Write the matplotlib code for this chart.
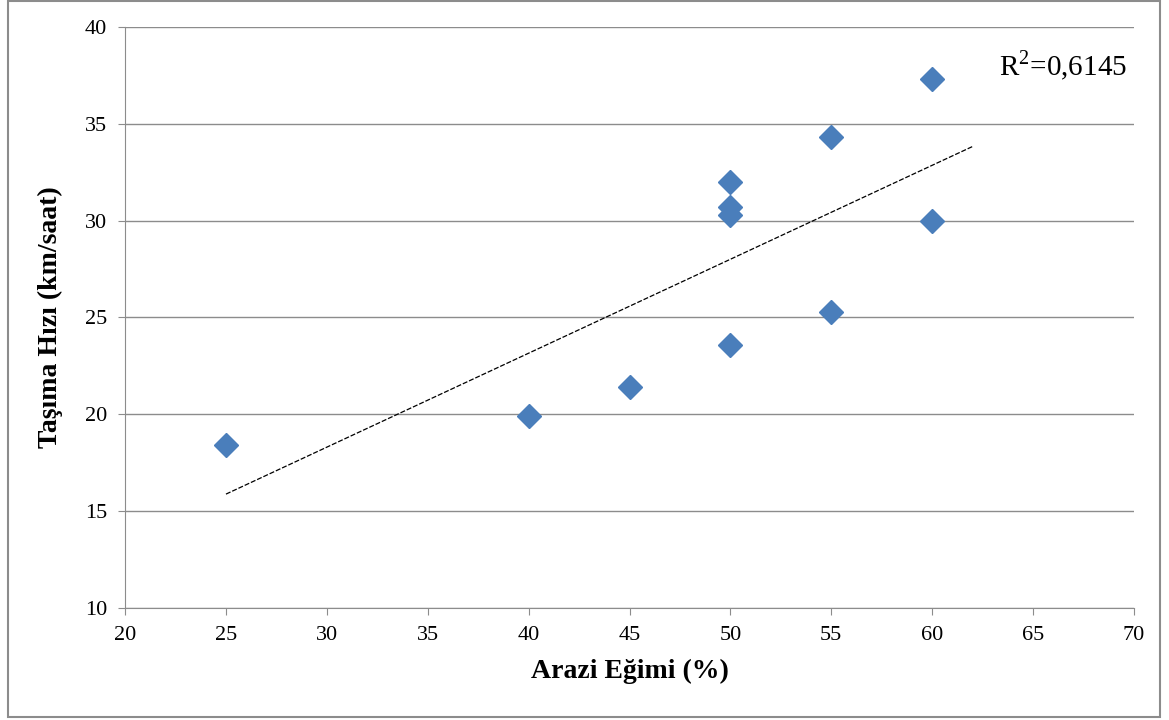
import matplotlib.pyplot as plt
import numpy as np
from matplotlib.patches import Rectangle

plt.rcParams['font.family'] = ['Liberation Serif', 'DejaVu Serif']
plt.rcParams['mathtext.fontset'] = 'custom'
plt.rcParams['mathtext.rm'] = 'Liberation Serif'

# Data
egim = [25, 40, 45, 50, 50, 50, 50, 55, 55, 60, 60]
hiz = [18.4, 19.9, 21.4, 23.6, 30.3, 30.7, 32.0, 25.3, 34.3, 30.0, 37.3]
x_ticks = [20, 25, 30, 35, 40, 45, 50, 55, 60, 65, 70]
y_ticks = [10, 15, 20, 25, 30, 35, 40]

fig = plt.figure(figsize=(11.69, 7.2), dpi=100)
ax = fig.add_axes([0.107, 0.1556, 0.863, 0.807])

# outer chart border
fig.patches.append(Rectangle((0.007, 0.004), 0.985, 0.994, transform=fig.transFigure,
                             fill=False, edgecolor='#8c8c8c', linewidth=1.5))

ax.set_axisbelow(True)
ax.grid(axis='y', color='#8c8c8c', linewidth=1.0)

# linear trendline (forward forecast to 62)
k, b = np.polyfit(egim, hiz, 1)
xt = np.array([min(egim), 62])
ax.plot(xt, k * xt + b, color='black', linewidth=0.9, linestyle=(0, (4, 1.5)))

ax.plot(egim, hiz, linestyle='none', marker='D', markersize=12.5,
        color='#4a7ebb', markeredgecolor='#4a7ebb')

ax.text(63.3, 38.0, r'R$^2$=0,6145', fontsize=21, va='center', ha='left')

ax.set_xlim(20, 70)
ax.set_ylim(10, 40)
ax.set_xticks(x_ticks)
ax.set_yticks(y_ticks)
ax.tick_params(direction='out', length=5, color='#8c8c8c', labelsize=16, pad=8)

for s in ['top', 'right']:
    ax.spines[s].set_visible(False)
for s in ['left', 'bottom']:
    ax.spines[s].set_color('#8c8c8c')

ax.set_xlabel('Arazi Eğimi (%)', fontsize=20, fontweight='bold', labelpad=10)
ax.set_ylabel('Taşıma Hızı (km/saat)', fontsize=20, fontweight='bold', labelpad=16)

fig.savefig('out.png', dpi=100)
